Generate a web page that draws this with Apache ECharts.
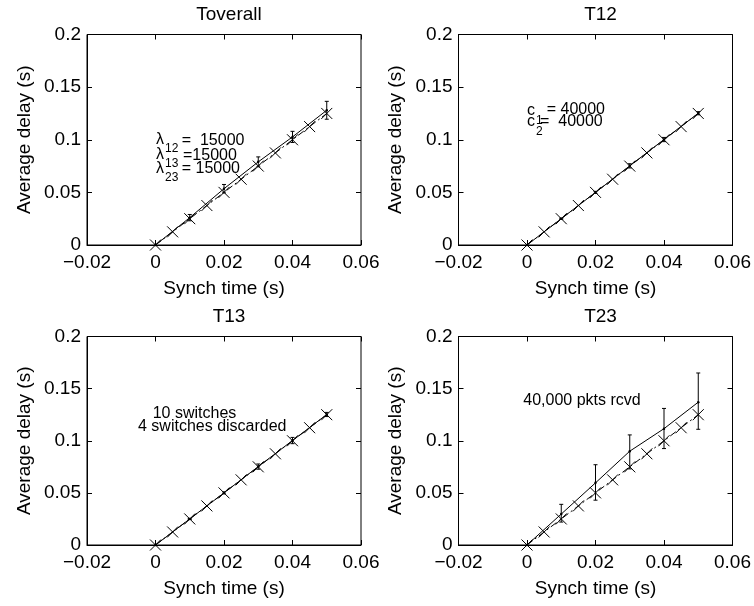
<!DOCTYPE html>
<html>
<head>
<meta charset="utf-8">
<script src="https://cdn.jsdelivr.net/npm/echarts@6/dist/echarts.min.js"></script>
<style>
html,body{margin:0;padding:0;background:#fff;}
#chart{width:754px;height:606px;}
</style>
</head>
<body>
<div id="chart"></div>
<script>
// ---- data ----
const panelTitles = ['Toverall', 'T12', 'T13', 'T23'];
const xTickLabels = ['\u22120.02', '0', '0.02', '0.04', '0.06'];
const yTickLabels = ['0', '0.05', '0.1', '0.15', '0.2'];
const xAxisName = 'Synch time (s)';
const yAxisName = 'Average delay (s)';

// measured points (solid line with error bars)
const measX = [0, 0.01, 0.02, 0.03, 0.04, 0.05];
const overallMean = [0, 0.026, 0.0535, 0.079, 0.1027, 0.128];
const overallLo   = [0, 0.023, 0.0495, 0.0743, 0.0974, 0.1195];
const overallHi   = [0, 0.029, 0.0575, 0.0837, 0.108, 0.1365];
const t12Mean = [0, 0.025, 0.05, 0.0752, 0.1002, 0.1252];
const t12Lo   = [0, 0.0245, 0.049, 0.0732, 0.0982, 0.1237];
const t12Hi   = [0, 0.0255, 0.051, 0.0772, 0.1022, 0.1267];
const t13Mean = [0, 0.025, 0.05, 0.0752, 0.1002, 0.1252];
const t13Lo   = [0, 0.0245, 0.049, 0.0727, 0.0972, 0.1232];
const t13Hi   = [0, 0.0255, 0.051, 0.0777, 0.1032, 0.1272];
const t23Mean = [0, 0.0297, 0.0596, 0.090, 0.1116, 0.137];
const t23Lo   = [0, 0.022, 0.043, 0.073, 0.0925, 0.111];
const t23Hi   = [0, 0.039, 0.077, 0.1056, 0.131, 0.165];

// reference points (x markers, dash-dot line)
const refX = [0, 0.005, 0.01, 0.015, 0.02, 0.025, 0.03, 0.035, 0.04, 0.045, 0.05];
const refY = [0, 0.0125, 0.025, 0.0375, 0.05, 0.0625, 0.075, 0.0875, 0.1, 0.1125, 0.125];

const panelMeans = [overallMean, t12Mean, t13Mean, t23Mean];
const panelLos = [overallLo, t12Lo, t13Lo, t23Lo];
const panelHis = [overallHi, t12Hi, t13Hi, t23Hi];

const xMin = -0.02, xMax = 0.06, xInterval = 0.02;
const yMin = 0, yMax = 0.2, yInterval = 0.05;

// ---- layout ----
const FONT = "'Liberation Sans', Arial, sans-serif";
const grids = [
  {left: 87, top: 34.5, width: 274, height: 210.5},
  {left: 458.5, top: 34.5, width: 274, height: 210.5},
  {left: 87, top: 336.5, width: 274, height: 208.5},
  {left: 458.5, top: 336.5, width: 274, height: 208.5}
];

function xFmt(v) { return xTickLabels[Math.round((v - xMin) / xInterval)] || ''; }
function yFmt(v) { return yTickLabels[Math.round((v - yMin) / yInterval)] || ''; }

const option = {
  animation: false,
  backgroundColor: '#fff',
  title: [],
  grid: [],
  xAxis: [],
  yAxis: [],
  series: [],
  graphic: []
};

grids.forEach((g, i) => {
  option.grid.push(Object.assign({show: true, borderColor: '#000', borderWidth: 1, backgroundColor: 'transparent'}, g));
  option.title.push({
    text: panelTitles[i],
    left: g.left + g.width / 2,
    top: g.top - 34,
    textAlign: 'center',
    textStyle: {fontFamily: FONT, fontSize: 19, fontWeight: 'normal', color: '#000'}
  });
  const tick = {show: true, inside: true, length: 5, lineStyle: {color: '#000', width: 1}};
  option.xAxis.push({
    type: 'value', gridIndex: i, min: xMin, max: xMax, interval: xInterval, position: 'bottom',
    name: xAxisName, nameLocation: 'middle', nameGap: 34,
    nameTextStyle: {fontFamily: FONT, fontSize: 19, color: '#000'},
    axisLine: {show: true, onZero: false, lineStyle: {color: '#000', width: 1}},
    axisTick: tick, splitLine: {show: false},
    axisLabel: {formatter: xFmt, margin: 8, fontFamily: FONT, fontSize: 19, color: '#000', showMinLabel: true, showMaxLabel: true}
  });
  option.xAxis.push({
    type: 'value', gridIndex: i, min: xMin, max: xMax, interval: xInterval, position: 'top',
    axisLine: {show: false, onZero: false}, axisTick: tick, splitLine: {show: false}, axisLabel: {show: false}
  });
  option.yAxis.push({
    type: 'value', gridIndex: i, min: yMin, max: yMax, interval: yInterval, position: 'left',
    name: yAxisName, nameLocation: 'middle', nameGap: 53,
    nameTextStyle: {fontFamily: FONT, fontSize: 19, color: '#000'},
    axisLine: {show: true, onZero: false, lineStyle: {color: '#000', width: 1}},
    axisTick: tick, splitLine: {show: false},
    axisLabel: {formatter: yFmt, margin: 6, fontFamily: FONT, fontSize: 19, color: '#000', showMinLabel: true, showMaxLabel: true}
  });
  option.yAxis.push({
    type: 'value', gridIndex: i, min: yMin, max: yMax, interval: yInterval, position: 'right',
    axisLine: {show: false, onZero: false}, axisTick: tick, splitLine: {show: false}, axisLabel: {show: false}
  });

  const xi = i * 2, yi = i * 2;
  const mean = panelMeans[i], lo = panelLos[i], hi = panelHis[i];
  // reference series: x markers with dash-dot line
  option.series.push({
    type: 'line', xAxisIndex: xi, yAxisIndex: yi,
    data: refX.map((x, k) => [x, refY[k]]),
    symbol: 'path://M0,0L10,10M10,0L0,10', symbolSize: 11, showAllSymbol: true,
    itemStyle: {color: 'rgba(0,0,0,0)', borderColor: '#000', borderWidth: 1},
    lineStyle: {color: '#000', width: 1, type: [7, 3, 2, 3]},
    emphasis: {disabled: true}, silent: true, z: 2
  });
  // measured series: solid line
  option.series.push({
    type: 'line', xAxisIndex: xi, yAxisIndex: yi,
    data: measX.map((x, k) => [x, mean[k]]),
    symbol: 'circle', symbolSize: 2.5, showAllSymbol: true,
    itemStyle: {color: '#000'},
    lineStyle: {color: '#000', width: 1},
    emphasis: {disabled: true}, silent: true, z: 3
  });
  // error bars
  option.series.push({
    type: 'custom', xAxisIndex: xi, yAxisIndex: yi,
    data: measX.map((x, k) => [x, lo[k], hi[k]]),
    encode: {x: 0, y: [1, 2]},
    silent: true, z: 4,
    renderItem: function (params, api) {
      const x = api.value(0), l = api.value(1), h = api.value(2);
      if (h - l <= 0) return null;
      const p1 = api.coord([x, l]), p2 = api.coord([x, h]);
      const w = 2;
      const st = {stroke: '#000', lineWidth: 1, fill: null};
      return {type: 'group', children: [
        {type: 'line', shape: {x1: p1[0], y1: p1[1], x2: p2[0], y2: p2[1]}, style: st},
        {type: 'line', shape: {x1: p1[0] - w, y1: p1[1], x2: p1[0] + w, y2: p1[1]}, style: st},
        {type: 'line', shape: {x1: p2[0] - w, y1: p2[1], x2: p2[0] + w, y2: p2[1]}, style: st}
      ]};
    }
  });
});

// ---- annotations ----
function txt(s, x, y, size) {
  return {type: 'text', left: x, top: y - (size || 16) * 0.58, silent: true, z: 10,
    style: {text: s, fontFamily: FONT, fontSize: size || 16, fill: '#000'}};
}
option.graphic = [
  // Toverall
  txt('\u03bb', 156, 141), txt('12', 165, 150, 12), txt('=  15000', 181.7, 141.7),
  txt('\u03bb', 156, 155.5), txt('13', 165, 164.5, 12), txt('=15000', 183, 156.5),
  txt('\u03bb', 156, 169.5), txt('23', 165, 179, 12), txt('= 15000', 181.7, 170),
  // T12
  txt('c', 527, 111.7), txt('1', 536, 121.5, 12), txt('= 40000', 546.7, 111),
  txt('c', 527, 123.3), txt('2', 536, 132.7, 12), txt('=  40000', 540, 123.3),
  // T13
  txt('10 switches', 152.7, 415), txt('4 switches discarded', 138, 428),
  // T23
  txt('40,000 pkts rcvd', 523.3, 401.7)
];

const chart = echarts.init(document.getElementById('chart'), null, {renderer: 'canvas'});
chart.setOption(option);
</script>
</body>
</html>
